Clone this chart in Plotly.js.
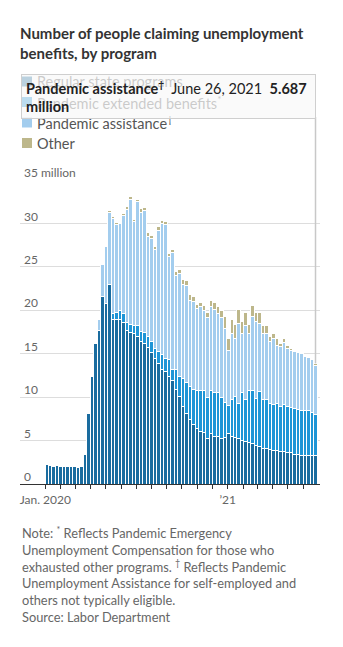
<!DOCTYPE html>
<html>
<head>
<meta charset="utf-8">
<script src="https://cdn.plot.ly/plotly-3.0.1.min.js"></script>
<style>
  html, body { margin: 0; padding: 0; background: #fff; }
  #chart { width: 343px; height: 647px; }
</style>
</head>
<body>
<div id="chart"></div>
<script>
// ---- data (week ending dates, millions of people) ----
const weekEnding = [
  '2020-01-04','2020-01-11','2020-01-18','2020-01-25','2020-02-01','2020-02-08','2020-02-15','2020-02-22','2020-02-29',
  '2020-03-07','2020-03-14','2020-03-21','2020-03-28','2020-04-04','2020-04-11','2020-04-18','2020-04-25',
  '2020-05-02','2020-05-09','2020-05-16','2020-05-23','2020-05-30','2020-06-06','2020-06-13','2020-06-20','2020-06-27',
  '2020-07-04','2020-07-11','2020-07-18','2020-07-25','2020-08-01','2020-08-08','2020-08-15','2020-08-22','2020-08-29',
  '2020-09-05','2020-09-12','2020-09-19','2020-09-26','2020-10-03','2020-10-10','2020-10-17','2020-10-24','2020-10-31',
  '2020-11-07','2020-11-14','2020-11-21','2020-11-28','2020-12-05','2020-12-12','2020-12-19','2020-12-26',
  '2021-01-02','2021-01-09','2021-01-16','2021-01-23','2021-01-30','2021-02-06','2021-02-13','2021-02-20','2021-02-27',
  '2021-03-06','2021-03-13','2021-03-20','2021-03-27','2021-04-03','2021-04-10','2021-04-17','2021-04-24',
  '2021-05-01','2021-05-08','2021-05-15','2021-05-22','2021-05-29','2021-06-05','2021-06-12','2021-06-19','2021-06-26'
];
const regularState = [
  2.2,2.1,2.05,2.1,2.05,2.0,2.0,2.0,2.0,1.95,2.0,
  3.4,8.1,12.4,16.2,17.7,21.6,20.8,23.0,
  18.9,18.9,18.9,18.6,17.7,17.4,17.3,17.0,16.4,16.2,
  15.7,15.1,14.4,13.9,13.2,12.9,12.4,11.9,10.9,10.1,
  8.9,8.1,7.4,6.8,6.4,6.0,5.9,5.2,5.8,5.5,5.5,5.2,5.3,
  5.8,5.5,5.3,5.2,5.0,4.9,4.8,4.7,4.4,4.3,4.1,4.05,3.95,
  3.9,3.8,3.75,3.7,3.65,3.6,3.45,3.4,3.3,3.3,3.25,3.25,3.25
];
const pandemicExtended = [
  0,0,0,0,0,0,0,0,0,0,0,0,0,0,0,0,0,0,0,
  0.7,0.8,1.1,1.0,0.9,1.0,0.9,1.3,1.2,1.2,
  1.3,1.3,1.2,1.3,1.7,1.6,1.9,1.3,2.3,2.3,
  3.2,3.6,3.8,4.1,4.4,4.8,4.9,4.8,5.0,5.0,5.0,4.8,4.1,
  3.2,4.2,4.8,4.1,5.5,4.8,6.0,6.1,5.5,6.4,5.6,5.65,5.35,
  5.2,5.5,5.15,5.4,5.25,5.2,5.25,5.2,5.2,5.2,5.25,4.95,4.75
];
const pandemicAssistance = [
  0,0,0,0,0,0,0,0,0,0,0,0,0,0,0,
  1.2,3.7,6.5,8.3,
  11.0,10.2,10.0,11.3,13.0,14.3,12.0,14.2,13.7,14.1,
  11.5,11.9,11.4,14.0,15.1,15.4,11.9,13.4,10.8,11.8,
  10.9,11.2,9.9,10.1,9.4,9.6,9.2,9.2,9.6,9.6,9.1,9.2,8.5,
  6.4,7.6,6.7,9.2,6.8,8.6,6.5,8.5,8.8,7.8,7.6,7.6,7.1,
  7.6,6.7,6.9,7.2,6.7,6.6,6.5,6.5,6.5,6.2,6.1,6.1,5.687
];
const otherPrograms = [
  0,0,0,0,0,0,0,0,0,0,0,0,0,0,0,0,0,0,
  0.2,
  0.2,0.15,0.15,0.2,0.3,0.4,0.3,0.3,0.4,0.3,
  0.4,0.3,0.3,0.4,0.3,0.3,0.3,0.4,0.5,0.5,
  0.6,0.5,0.7,0.6,0.5,0.5,0.6,0.5,0.7,0.8,0.8,0.8,1.4,
  1.4,1.6,1.6,1.6,1.4,1.4,1.1,1.3,1.1,1.2,1.0,0.9,0.6,
  0.6,0.7,0.4,0.4,0.3,0.2,0.2,0.15,0.15,0.15,0.1,0.1,0.2
];
const seriesNames = ['Regular state programs', 'Pandemic extended benefits<sup>*</sup>', 'Pandemic assistance<sup>\u2020</sup>', 'Other'];
const yTickVals = [0, 5, 10, 15, 20, 25, 30, 35];
const yTickText = ['0', '5', '10', '15', '20', '25', '30', '35 million'];
const xTickVals = ['2020-01-01','2020-02-01','2020-03-01','2020-04-01','2020-05-01','2020-06-01','2020-07-01','2020-08-01','2020-09-01',
  '2020-10-01','2020-11-01','2020-12-01','2021-01-01','2021-02-01','2021-03-01','2021-04-01','2021-05-01','2021-06-01'];
const xTickText = ['Jan. 2020','','','','','','','','','','','','\u201921','','','','',''];
const hoverLabelDate = 'June 26, 2021';

// ---- styles ----
const colors = ['#1a6c9f', '#1e95d6', '#a3cdee', '#bdb78b'];
const FONT = 'Lato, "Noto Sans", sans-serif';
const W = 343, H = 647;
const M = {l: 20, r: 23, t: 180, b: 163};
const plotW = W - M.l - M.r, plotH = H - M.t - M.b;
const px = x => (x - M.l) / plotW;           // pixel -> paper x
const py = y => (H - M.b - y) / plotH;       // pixel -> paper y

const seriesData = [regularState, pandemicExtended, pandemicAssistance, otherPrograms];
const traces = seriesData.map((vals, k) => ({
  type: 'bar',
  x: weekEnding,
  y: vals.map(v => v > 0 ? v : null),
  name: seriesNames[k],
  marker: {color: colors[k], line: {color: '#ffffff', width: 1}},
  hoverinfo: 'skip',
  showlegend: false
}));

// legend (drawn manually to match the compact layout)
const legendRows = [81.5, 102, 122.5, 143];
const shapes = [];
const annotations = [];
legendRows.forEach((ry, k) => {
  shapes.push({type: 'rect', xref: 'paper', yref: 'paper', layer: 'above',
    x0: px(22), x1: px(32), y0: py(ry + 5), y1: py(ry - 5),
    fillcolor: colors[k], line: {width: 0}});
  annotations.push({xref: 'paper', yref: 'paper', x: px(35), y: py(ry), xanchor: 'left', yanchor: 'middle',
    text: seriesNames[k], showarrow: false, font: {family: FONT, size: 14.5, color: '#555'}});
});

// hover line at last week
const last = weekEnding.length - 1;
const lastTotal = regularState[last] + pandemicExtended[last] + pandemicAssistance[last] + otherPrograms[last];
shapes.push({type: 'line', xref: 'x', yref: 'paper', x0: weekEnding[last], x1: weekEnding[last],
  y0: lastTotal / 35, y1: py(117), line: {color: '#c8c8c8', width: 1.5}, layer: 'above'});

// tooltip box
annotations.push({xref: 'paper', yref: 'paper', x: px(20.5), y: py(74), xanchor: 'left', yanchor: 'top',
  width: 285, height: 35, borderpad: 4, borderwidth: 1, bordercolor: '#cfcfcf',
  bgcolor: 'rgba(248,248,248,0.72)', align: 'left', valign: 'middle', showarrow: false,
  text: '<b>' + seriesNames[2] + '</b>  ' + hoverLabelDate + '  <b>' + pandemicAssistance[last].toFixed(3) + '</b><br><b>million</b>',
  font: {family: FONT, size: 14.5, color: '#222'}});

// notes
annotations.push({xref: 'paper', yref: 'paper', x: px(20), y: py(522), xanchor: 'left', yanchor: 'top',
  align: 'left', showarrow: false,
  text: 'Note: <sup>*</sup> Reflects Pandemic Emergency<br>Unemployment Compensation for those who<br>exhausted other programs. <sup>\u2020</sup> Reflects Pandemic<br>Unemployment Assistance for self-employed and<br>others not typically eligible.<br>Source: Labor Department',
  font: {family: FONT, size: 12.8, color: '#666'}});

const layout = {
  width: W, height: H,
  margin: M,
  paper_bgcolor: '#fff', plot_bgcolor: '#fff',
  barmode: 'stack', bargap: 0,
  title: {text: '<b>Number of people claiming unemployment<br>benefits, by program</b>',
    x: 20 / W, xref: 'container', xanchor: 'left',
    y: 1 - 39 / H, yref: 'container', yanchor: 'top',
    font: {family: FONT, size: 15, color: '#333'}},
  xaxis: {type: 'date', range: ['2019-11-11 08:00', '2021-07-05'],
    tickvals: xTickVals, ticktext: xTickText, ticks: 'outside', ticklen: 4, tickcolor: '#333', tickwidth: 1,
    showline: true, linecolor: '#333', linewidth: 1.3, showgrid: false, zeroline: false,
    tickfont: {family: FONT, size: 12, color: '#666'}, fixedrange: true},
  yaxis: {range: [0, 35], tickvals: yTickVals, ticktext: yTickText,
    ticklabelposition: 'inside', ticklabelshift: -7, ticklabelstandoff: 1, ticklabeloverflow: 'allow',
    showgrid: true, gridcolor: '#dddddd', gridwidth: 1, zeroline: false, showline: false, ticks: '',
    tickfont: {family: FONT, size: 12, color: '#666'}, fixedrange: true},
  shapes: shapes,
  annotations: annotations
};

Plotly.newPlot('chart', traces, layout, {displayModeBar: false, staticPlot: true});
</script>
</body>
</html>
